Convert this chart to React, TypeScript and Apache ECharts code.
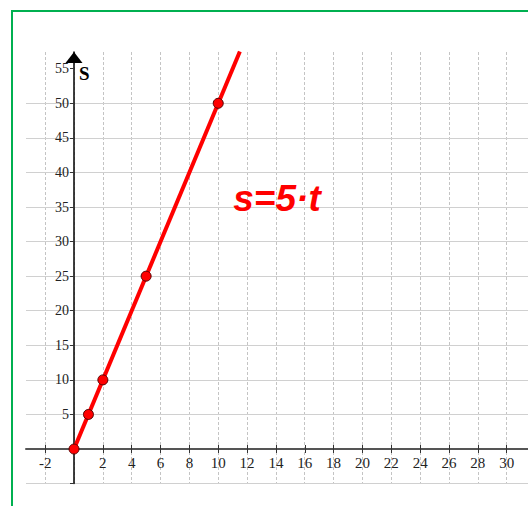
import React, { useEffect, useRef } from "react";
import * as echarts from "echarts";

const pointT = [0, 1, 2, 5, 10];
const pointS = [0, 5, 10, 25, 50];
const lineT = [0, 11.5];
const lineS = [0, 57.5];
const xTicks = [-2, 0, 2, 4, 6, 8, 10, 12, 14, 16, 18, 20, 22, 24, 26, 28, 30];
const xLabels = [-2, 2, 4, 6, 8, 10, 12, 14, 16, 18, 20, 22, 24, 26, 28, 30];
const yTicks = [-5, 0, 5, 10, 15, 20, 25, 30, 35, 40, 45, 50, 55];
const yLabels = [5, 10, 15, 20, 25, 30, 35, 40, 45, 50, 55];
const xMin = -3.33;
const xMax = 31.48;
const yMin = -5;
const yMax = 57.42;
const gridXMin = -4;
const gridXMax = 30;
const gridXStep = 2;
const gridYStep = 5;
const formula = "s=5·t";
const yName = "S";

export default function App() {
  const ref = useRef<HTMLDivElement>(null);
  useEffect(() => {
    if (!ref.current) return;
    const chart = echarts.init(ref.current, null, { renderer: "svg" });
    const serif = "'Liberation Serif', 'Times New Roman', serif";
    chart.setOption({
      animation: false,
      backgroundColor: "#ffffff",
      grid: [
        { left: 26, right: 0, top: 52, bottom: 22.4, containLabel: false, outerBoundsMode: "none" },
        { left: 16.32, right: 21.4, top: 52, bottom: 22.4, containLabel: false, outerBoundsMode: "none" },
      ],
      xAxis: [
        {
          type: "value",
          gridIndex: 0,
          min: xMin,
          max: xMax,
          position: "bottom",
          offset: -34.6,
          axisLine: { show: true, onZero: false, lineStyle: { color: "#555555", width: 2 } },
          axisTick: { show: true, inside: false, length: 4, customValues: xTicks, lineStyle: { color: "#333333", width: 1 } },
          axisLabel: { show: true, customValues: xLabels, margin: 6, fontFamily: serif, fontSize: 15, color: "#222222" },
          splitLine: { show: false },
          minorSplitLine: { show: false },
          z: 5,
        },
        {
          type: "value",
          gridIndex: 0,
          min: xMin,
          max: xMax,
          position: "bottom",
          offset: -34.6,
          axisLine: { show: false, onZero: false },
          axisTick: { show: true, inside: true, length: 4, customValues: xTicks, lineStyle: { color: "#333333", width: 1 } },
          axisLabel: { show: false },
          splitLine: { show: false },
          minorSplitLine: { show: false },
          z: 5,
        },
        {
          type: "value",
          gridIndex: 1,
          min: gridXMin,
          max: gridXMax,
          interval: gridXStep,
          axisLine: { show: false },
          axisTick: { show: false },
          axisLabel: { show: false },
          splitLine: {
            show: true,
            showMinLine: false,
            lineStyle: { color: "#c4c4c4", width: 1, type: [3, 2] },
          },
        },
      ],
      yAxis: [
        {
          type: "value",
          gridIndex: 0,
          min: yMin,
          max: yMax,
          interval: gridYStep,
          position: "left",
          offset: -48,
          axisLine: {
            show: true,
            onZero: false,
            symbol: ["none", "triangle"],
            symbolSize: [17, 11],
            symbolOffset: [0, -5.5],
            lineStyle: { color: "#000000", width: 1.5 },
          },
          axisTick: { show: true, inside: false, length: 4, customValues: yTicks, lineStyle: { color: "#333333", width: 1 } },
          axisLabel: { show: true, customValues: yLabels, margin: 5, fontFamily: serif, fontSize: 14, color: "#222222" },
          splitLine: { show: true, showMaxLine: false, lineStyle: { color: "#d0d0d0", width: 1, type: "solid" } },
          z: 5,
        },
        {
          type: "value",
          gridIndex: 1,
          min: yMin,
          max: yMax,
          axisLine: { show: false },
          axisTick: { show: false },
          axisLabel: { show: false },
          splitLine: { show: false },
        },
      ],
      graphic: [
        { type: "rect", shape: { x: 12, y: 11, width: 530, height: 510 }, style: { fill: "none", stroke: "#00b050", lineWidth: 2 }, z: 100 },
        {
          type: "text",
          x: 79,
          y: 64,
          style: { text: yName, font: "bold 19px 'Liberation Serif', serif", fill: "#000000", textAlign: "left", textVerticalAlign: "top" },
          z: 100,
        },
        {
          type: "text",
          x: 277,
          y: 198,
          style: { text: formula, font: "italic bold 37px 'Liberation Sans', sans-serif", fill: "#ff0000", textAlign: "center", textVerticalAlign: "middle" },
          z: 100,
        },
      ],
      series: [
        {
          type: "line",
          xAxisIndex: 0,
          yAxisIndex: 0,
          data: lineT.map((t, i) => [t, lineS[i]]),
          symbol: "none",
          clip: false,
          lineStyle: { color: "#ff0000", width: 4 },
          z: 6,
        },
        {
          type: "scatter",
          xAxisIndex: 0,
          yAxisIndex: 0,
          data: pointT.map((t, i) => [t, pointS[i]]),
          symbol: "circle",
          symbolSize: 10,
          itemStyle: { color: "#ff0000", borderColor: "#550000", borderWidth: 1, opacity: 1 },
          z: 7,
        },
      ],
    });
    return () => chart.dispose();
  }, []);
  return <div ref={ref} style={{ position: "absolute", left: 0, top: 0, width: 528, height: 506 }} />;
}
